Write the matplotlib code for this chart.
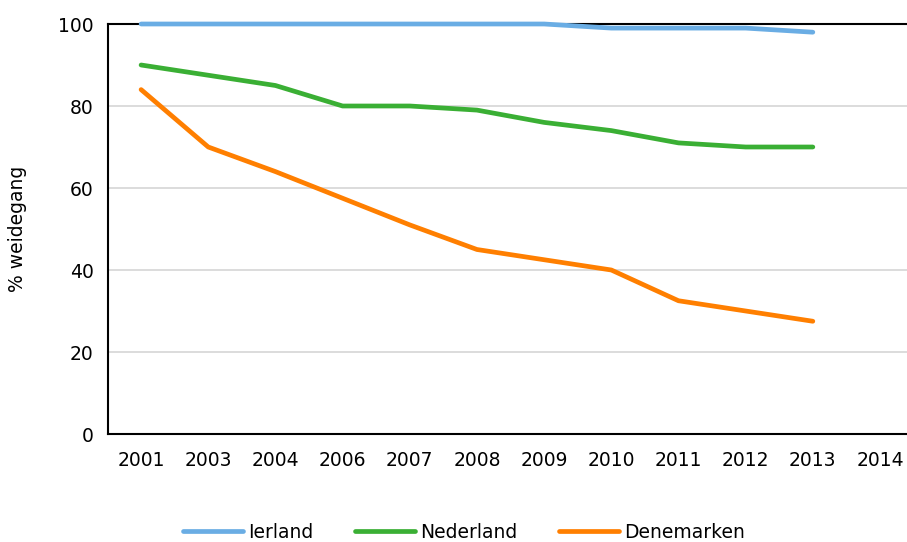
import matplotlib.pyplot as plt

jaren = ["2001", "2003", "2004", "2006", "2007", "2008", "2009", "2010", "2011", "2012", "2013", "2014"]
ierland = [100, 100, 100, 100, 100, 100, 100, 99, 99, 99, 98]
nederland = [90, 87.5, 85, 80, 80, 79, 76, 74, 71, 70, 70]
denemarken = [84, 70, 64, 57.5, 51, 45, 42.5, 40, 32.5, 30, 27.5]

plt.rcParams['font.family'] = ['DejaVu Sans']

fig = plt.figure(figsize=(9.07, 5.42), dpi=100)
ax = fig.add_axes([107.5 / 907, 108 / 542, (913.6 - 107.5) / 907, 410 / 542])

x = list(range(len(jaren)))
ax.plot(x[:len(ierland)], ierland, color="#6AADE4", lw=3.4, solid_capstyle="round",
        label="Ierland", zorder=3, clip_on=False)
ax.plot(x[:len(nederland)], nederland, color="#3AAF34", lw=3.4, solid_capstyle="round",
        label="Nederland", zorder=3)
ax.plot(x[:len(denemarken)], denemarken, color="#FF7F00", lw=3.4, solid_capstyle="round",
        label="Denemarken", zorder=3)

ax.set_xlim(-0.5, len(jaren) - 0.5)
ax.set_ylim(0, 100)
ax.set_xticks(x)
ax.set_xticklabels(jaren)
ax.set_yticks([0, 20, 40, 60, 80, 100])
ax.tick_params(axis="both", length=0, labelsize=13.5, pad=10)
ax.tick_params(axis="x", pad=12)
ax.yaxis.grid(True, color="#D9D9D9", lw=1.3)
ax.set_axisbelow(True)
for s in ["left", "bottom", "top"]:
    ax.spines[s].set_color("black")
    ax.spines[s].set_linewidth(1.5)
ax.spines["right"].set_visible(False)
ax.set_ylabel("% weidegang", fontsize=13.5, labelpad=22)

fig.legend(loc="center", bbox_to_anchor=(464 / 907, 1 - 532 / 542), ncol=3, frameon=False,
           fontsize=13.5, handlelength=3.2, columnspacing=2.2, handletextpad=0.3)

fig.savefig("out.png", dpi=100)
